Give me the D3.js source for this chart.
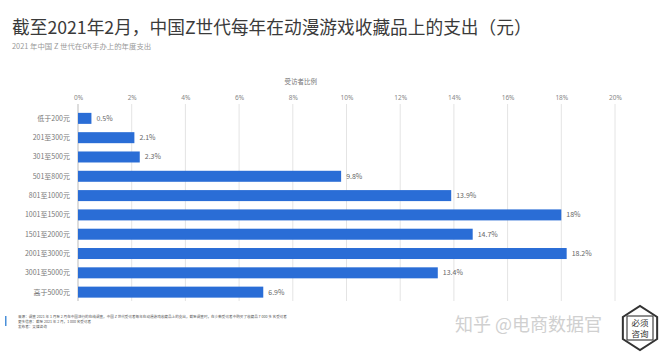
<!DOCTYPE html>
<html><head><meta charset="utf-8">
<script src="https://cdn.jsdelivr.net/npm/d3@7"></script>
<style>
body{margin:0;background:#fff;}
svg{display:block;font-family:"Noto Sans CJK SC","Noto Sans",sans-serif;}
</style></head>
<body><svg id="c" width="668" height="355"></svg>
<script>
const categories = ["低于200元","201至300元","301至500元","501至800元","801至1000元","1001至1500元","1501至2000元","2001至3000元","3001至5000元","高于5000元"];
const values = [0.5, 2.1, 2.3, 9.8, 13.9, 18, 14.7, 18.2, 13.4, 6.9];
const valueLabels = ["0.5%","2.1%","2.3%","9.8%","13.9%","18%","14.7%","18.2%","13.4%","6.9%"];
const ticks = [0,2,4,6,8,10,12,14,16,18,20];

const svg = d3.select("#c");
const x = d3.scaleLinear().domain([0,20]).range([78,615]);
const y = d3.scaleBand().domain(categories).range([109,301.5]).paddingInner(0.43).paddingOuter(0.2);

svg.append("text").attr("x",12).attr("y",34).attr("font-size",17.7).attr("fill","#3a3a3a")
  .text("截至2021年2月，中国Z世代每年在动漫游戏收藏品上的支出（元）");
svg.append("text").attr("x",12).attr("y",49).attr("font-size",7.4).attr("fill","#999")
  .text("2021 年中国 Z 世代在GK手办上的年度支出");

svg.append("text").attr("x",x(8.3)).attr("y",84).attr("font-size",6.5).attr("fill","#777")
  .attr("text-anchor","middle").text("受访者比例");

const ax = svg.append("g").attr("transform","translate(0,104)")
  .call(d3.axisTop(x).tickValues(ticks).tickFormat(d=>d+"%").tickSize(0).tickPadding(4));
ax.select(".domain").remove();
ax.selectAll("text").attr("font-size",6.5).attr("fill","#888").attr("font-family","Noto Sans, sans-serif");

svg.append("g").selectAll("line").data(ticks).join("line")
  .attr("x1",d=>x(d)).attr("x2",d=>x(d)).attr("y1",104).attr("y2",301)
  .attr("stroke",d=>d===0?"#bbb":"#e4e4e4").attr("stroke-width",1);

svg.append("g").selectAll("rect").data(values).join("rect")
  .attr("x",x(0)).attr("y",(d,i)=>y(categories[i]))
  .attr("width",d=>x(d)-x(0)).attr("height",y.bandwidth()).attr("fill","#2a6dd6");

svg.append("g").selectAll("text").data(values).join("text")
  .attr("x",d=>x(d)+5).attr("y",(d,i)=>y(categories[i])+y.bandwidth()/2+2.5)
  .attr("font-size",7).attr("fill","#666").text((d,i)=>valueLabels[i]);

svg.append("g").selectAll("text").data(categories).join("text")
  .attr("x",70).attr("y",d=>y(d)+y.bandwidth()/2+2.5).attr("text-anchor","end")
  .attr("font-size",7).attr("fill","#777").text(d=>d);

// footer
svg.append("rect").attr("x",5).attr("y",316).attr("width",1.5).attr("height",10).attr("fill","#4a90d9");
const foot = ["来源：调查 2021 年 1 月至 2 月在中国进行的在线调查，中国 Z 世代受访者每年在动漫游戏收藏品上的支出，截至调查时，在少数受访者中购买了收藏品 7 000 多 名受访者","更多信息：截至 2021 年 2 月，1 000 名受访者","发布者：艾媒咨询"];
svg.append("g").selectAll("text").data(foot).join("text")
  .attr("x",18).attr("y",(d,i)=>318+i*5).attr("font-size",3.6).attr("fill","#555").text(d=>d);

svg.append("text").attr("x",455).attr("y",331).attr("font-size",18).attr("fill","#d0d0d0")
  .text("知乎 @电商数据官");
const hx=640, hy=328, hr=22;
svg.append("polygon").attr("points",d3.range(6).map(k=>{const a=Math.PI/3*k+Math.PI/6;return [hx+hr*Math.cos(a)*0.9, hy+hr*Math.sin(a)].join(",");}).join(" "))
  .attr("fill","#fff").attr("stroke","#333").attr("stroke-width",2);
svg.append("rect").attr("x",hx-13).attr("y",hy-12).attr("width",26).attr("height",24).attr("fill","none").attr("stroke","#444").attr("stroke-width",1.2);
svg.append("text").attr("x",hx).attr("y",hy-2).attr("text-anchor","middle").attr("font-size",8.5).attr("fill","#333").text("必须");
svg.append("text").attr("x",hx).attr("y",hy+9).attr("text-anchor","middle").attr("font-size",8.5).attr("fill","#333").text("咨询");
</script></body></html>
